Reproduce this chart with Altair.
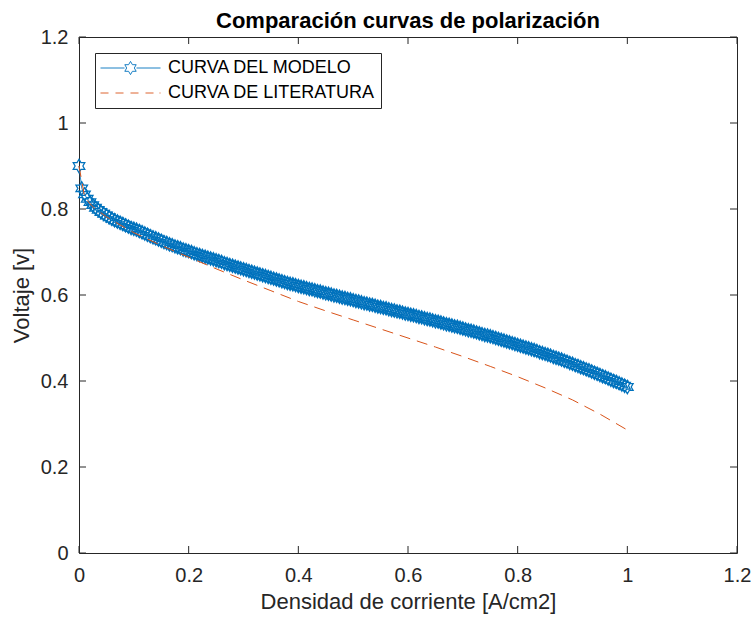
import altair as alt
import pandas as pd

FONT = "Liberation Sans, Arial, Helvetica, sans-serif"
BLUE = "#0072BD"
ORANGE = "#D95319"
AXC = "#262626"

SERIES = ["CURVA DEL MODELO", "CURVA DE LITERATURA"]

x_model = [
    0.000, 0.005, 0.010, 0.015, 0.020, 0.025, 0.030, 0.035, 0.040, 0.045,
    0.050, 0.055, 0.060, 0.065, 0.070, 0.075, 0.080, 0.085, 0.090, 0.095,
    0.100, 0.105, 0.110, 0.115, 0.120, 0.125, 0.130, 0.135, 0.140, 0.145,
    0.150, 0.155, 0.160, 0.165, 0.170, 0.175, 0.180, 0.185, 0.190, 0.195,
    0.200, 0.205, 0.210, 0.215, 0.220, 0.225, 0.230, 0.235, 0.240, 0.245,
    0.250, 0.255, 0.260, 0.265, 0.270, 0.275, 0.280, 0.285, 0.290, 0.295,
    0.300, 0.305, 0.310, 0.315, 0.320, 0.325, 0.330, 0.335, 0.340, 0.345,
    0.350, 0.355, 0.360, 0.365, 0.370, 0.375, 0.380, 0.385, 0.390, 0.395,
    0.400, 0.405, 0.410, 0.415, 0.420, 0.425, 0.430, 0.435, 0.440, 0.445,
    0.450, 0.455, 0.460, 0.465, 0.470, 0.475, 0.480, 0.485, 0.490, 0.495,
    0.500, 0.505, 0.510, 0.515, 0.520, 0.525, 0.530, 0.535, 0.540, 0.545,
    0.550, 0.555, 0.560, 0.565, 0.570, 0.575, 0.580, 0.585, 0.590, 0.595,
    0.600, 0.605, 0.610, 0.615, 0.620, 0.625, 0.630, 0.635, 0.640, 0.645,
    0.650, 0.655, 0.660, 0.665, 0.670, 0.675, 0.680, 0.685, 0.690, 0.695,
    0.700, 0.705, 0.710, 0.715, 0.720, 0.725, 0.730, 0.735, 0.740, 0.745,
    0.750, 0.755, 0.760, 0.765, 0.770, 0.775, 0.780, 0.785, 0.790, 0.795,
    0.800, 0.805, 0.810, 0.815, 0.820, 0.825, 0.830, 0.835, 0.840, 0.845,
    0.850, 0.855, 0.860, 0.865, 0.870, 0.875, 0.880, 0.885, 0.890, 0.895,
    0.900, 0.905, 0.910, 0.915, 0.920, 0.925, 0.930, 0.935, 0.940, 0.945,
    0.950, 0.955, 0.960, 0.965, 0.970, 0.975, 0.980, 0.985, 0.990, 0.995,
    1.000,
]
y_model = [
    0.900, 0.848, 0.834, 0.824, 0.816, 0.809, 0.803, 0.798, 0.793, 0.789,
    0.785, 0.781, 0.777, 0.774, 0.771, 0.768, 0.765, 0.762, 0.759, 0.756,
    0.754, 0.752, 0.749, 0.746, 0.743, 0.740, 0.737, 0.734, 0.732, 0.729,
    0.726, 0.723, 0.721, 0.718, 0.716, 0.713, 0.711, 0.709, 0.706, 0.704,
    0.702, 0.700, 0.697, 0.695, 0.693, 0.691, 0.689, 0.687, 0.685, 0.683,
    0.681, 0.679, 0.677, 0.674, 0.672, 0.670, 0.668, 0.666, 0.664, 0.662,
    0.660, 0.658, 0.656, 0.654, 0.652, 0.650, 0.648, 0.646, 0.644, 0.642,
    0.640, 0.638, 0.636, 0.634, 0.632, 0.630, 0.628, 0.626, 0.625, 0.623,
    0.621, 0.619, 0.618, 0.616, 0.614, 0.613, 0.611, 0.609, 0.608, 0.606,
    0.604, 0.603, 0.601, 0.599, 0.598, 0.596, 0.594, 0.593, 0.591, 0.590,
    0.588, 0.586, 0.585, 0.583, 0.581, 0.580, 0.578, 0.577, 0.575, 0.573,
    0.572, 0.570, 0.569, 0.567, 0.565, 0.564, 0.562, 0.561, 0.559, 0.557,
    0.556, 0.554, 0.553, 0.551, 0.549, 0.548, 0.546, 0.544, 0.543, 0.541,
    0.539, 0.538, 0.536, 0.534, 0.532, 0.531, 0.529, 0.527, 0.526, 0.524,
    0.522, 0.520, 0.518, 0.517, 0.515, 0.513, 0.511, 0.509, 0.507, 0.506,
    0.504, 0.502, 0.500, 0.498, 0.496, 0.494, 0.492, 0.490, 0.488, 0.486,
    0.484, 0.482, 0.480, 0.478, 0.476, 0.474, 0.472, 0.470, 0.467, 0.465,
    0.463, 0.461, 0.459, 0.456, 0.454, 0.452, 0.450, 0.447, 0.445, 0.442,
    0.440, 0.437, 0.435, 0.432, 0.430, 0.427, 0.425, 0.422, 0.419, 0.417,
    0.414, 0.411, 0.409, 0.406, 0.403, 0.400, 0.398, 0.395, 0.392, 0.389,
    0.386,
]

x_lit = [0.00, 0.01, 0.02, 0.03, 0.05, 0.075, 0.10, 0.15, 0.20, 0.25, 0.30, 0.35,
         0.40, 0.45, 0.50, 0.55, 0.60, 0.65, 0.70, 0.75, 0.80, 0.85, 0.90, 0.95, 1.00]
y_lit = [0.900, 0.830, 0.812, 0.800, 0.782, 0.763, 0.745, 0.715, 0.688, 0.661, 0.635, 0.610,
         0.585, 0.563, 0.542, 0.521, 0.500, 0.479, 0.457, 0.434, 0.410, 0.384, 0.356, 0.323, 0.286]

x_ticks = [0, 0.2, 0.4, 0.6, 0.8, 1.0, 1.2]
y_ticks = [0, 0.2, 0.4, 0.6, 0.8, 1.0, 1.2]

W, H = 658, 516
TL = 7  # inward tick length (px)

# six-pointed star (hexagram) outline in unit box
STAR = ("M0,-1L-0.289,-0.5L-0.866,-0.5L-0.577,0L-0.866,0.5L-0.289,0.5L0,1"
        "L0.289,0.5L0.866,0.5L0.577,0L0.866,-0.5L0.289,-0.5Z")
# legend symbols: 60 px wide -> unit = 30 px
LEG_STAR = ("M0,-0.22L-0.064,-0.11L-0.19,-0.11L-0.127,0L-0.19,0.11L-0.064,0.11L0,0.22"
            "L0.064,0.11L0.19,0.11L0.127,0L0.19,-0.11L0.064,-0.11Z")
LEG_MODEL = "M-1,0L-0.2,0M0.2,0L1,0" + LEG_STAR
LEG_LIT = "M-1,0L-0.733,0M-0.5,0L-0.233,0M0,0L0.267,0M0.5,0L0.767,0M0.967,0L1,0"

df_model = pd.DataFrame({"x": x_model, "y": y_model, "serie": SERIES[0]})
df_lit = pd.DataFrame({"x": x_lit, "y": y_lit, "serie": SERIES[1]})
df_all = pd.concat([df_model, df_lit], ignore_index=True)
df_xt = pd.DataFrame({"t": x_ticks})
df_yt = pd.DataFrame({"t": y_ticks})

xscale = alt.Scale(domain=[0, 1.2], nice=False, zero=False)
yscale = alt.Scale(domain=[0, 1.2], nice=False, zero=False)
xaxis = alt.Axis(values=x_ticks, format="~g", title="Densidad de corriente [A/cm2]",
                 labelPadding=12, titlePadding=6, labelFlush=False)
yaxis = alt.Axis(values=y_ticks, format="~g", title="Voltaje [v]",
                 labelPadding=11, titlePadding=7, labelFlush=False)


def X(field):
    return alt.X(field, type="quantitative", scale=xscale, axis=xaxis)


def Y(field):
    return alt.Y(field, type="quantitative", scale=yscale, axis=yaxis)


legend = alt.Legend(
    title=None, orient="none", legendX=16, legendY=16,
    symbolSize=3600, symbolStrokeWidth=0.9, symbolOpacity=1,
    clipHeight=20, rowPadding=5, padding=5,
    labelFont=FONT, labelFontSize=18, labelColor="black", labelOffset=7,
    strokeColor=AXC, fillColor="white", labelLimit=400,
)

tick_rule = dict(color=AXC, strokeWidth=1)

bottom_ticks = alt.Chart(df_xt).mark_rule(**tick_rule).encode(
    x=X("t"), y=alt.value(H), y2=alt.value(H - TL))
top_ticks = alt.Chart(df_xt).mark_rule(**tick_rule).encode(
    x=X("t"), y=alt.value(0), y2=alt.value(TL))
left_ticks = alt.Chart(df_yt).mark_rule(**tick_rule).encode(
    y=Y("t"), x=alt.value(0), x2=alt.value(TL))
right_ticks = alt.Chart(df_yt).mark_rule(**tick_rule).encode(
    y=Y("t"), x=alt.value(W), x2=alt.value(W - TL))

model_line = alt.Chart(df_model).mark_line(color=BLUE, strokeWidth=0.8).encode(
    x=X("x"), y=Y("y"))
model_pts = alt.Chart(df_model).mark_point(
    shape=STAR, size=180, filled=False, color=BLUE, strokeWidth=1.25, opacity=1
).encode(x=X("x"), y=Y("y"))
lit_line = alt.Chart(df_lit).mark_line(
    color=ORANGE, strokeWidth=1, strokeDash=[11, 7]).encode(x=X("x"), y=Y("y"))

legend_layer = alt.Chart(df_all).mark_point(opacity=0, filled=False).encode(
    x=X("x"), y=Y("y"),
    color=alt.Color("serie:N", scale=alt.Scale(domain=SERIES, range=[BLUE, ORANGE]), legend=legend),
    shape=alt.Shape("serie:N", scale=alt.Scale(domain=SERIES, range=[LEG_MODEL, LEG_LIT]), legend=legend),
)

chart = alt.layer(
    bottom_ticks, top_ticks, left_ticks, right_ticks,
    model_line, model_pts, lit_line, legend_layer,
).properties(
    width=W, height=H,
    background="white",
    title=alt.TitleParams("Comparación curvas de polarización", font=FONT, fontSize=22,
                          fontWeight="bold", color="black", anchor="middle",
                          baseline="alphabetic", offset=-23),
    autosize=alt.AutoSizeParams(type="none"),
    padding={"left": 79, "top": 37, "right": 14, "bottom": 64},
).configure_view(
    stroke=AXC, strokeWidth=1,
).configure_axis(
    domain=False, ticks=False, grid=False,
    labelFont=FONT, labelFontSize=20, labelColor=AXC,
    titleFont=FONT, titleFontSize=22, titleFontWeight="normal", titleColor=AXC,
)

chart.save("out.html", embed_options={"renderer": "svg", "actions": False})
